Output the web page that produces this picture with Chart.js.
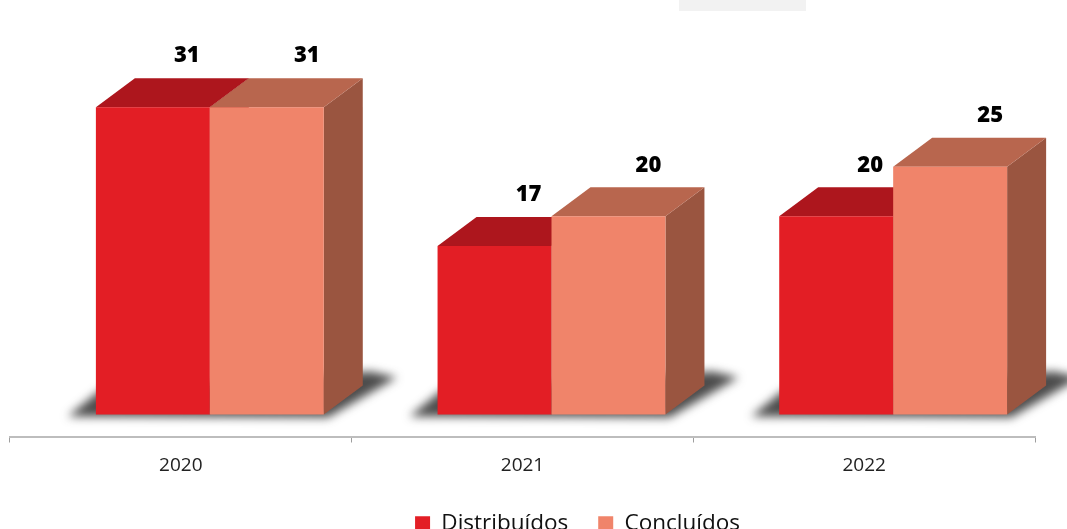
<!DOCTYPE html>
<html>
<head>
<meta charset="utf-8">
<script src="https://cdn.jsdelivr.net/npm/chart.js@4/dist/chart.umd.min.js"></script>
<style>
    html, body { margin: 0; background: #fff; }
    #caixa { width: 1067px; height: 529px; }
</style>
</head>
<body>
<div id="caixa"><canvas id="grafico"></canvas></div>
<script>
const anos = ["2020", "2021", "2022"];
const distribuidos = [31, 17, 20];
const concluidos = [31, 20, 25];

// cores: frente, topo, lateral
const coresDistribuidos = ["#E31E25", "#AD161D", "#8E1217"];
const coresConcluidos = ["#F0846A", "#B8664E", "#9A5540"];

// deslocamento da face frontal e profundidade da caixa
const DX = 29, DY = -22;
const PX = 39, PY = 29;

function poligono(ctx, pts) {
    ctx.beginPath();
    ctx.moveTo(pts[0][0], pts[0][1]);
    for (let i = 1; i < pts.length; i++) ctx.lineTo(pts[i][0], pts[i][1]);
    ctx.closePath();
    ctx.fill();
}

function desenhaCaixa(ctx, el, cores) {
    const x0 = el.x - el.width / 2 + DX;
    const x1 = el.x + el.width / 2 + DX;
    const topo = el.y + DY;
    const base = el.base + DY;
    ctx.fillStyle = cores[2];
    poligono(ctx, [[x1, topo], [x1 + PX, topo - PY], [x1 + PX, base - PY], [x1, base]]);
    ctx.fillStyle = cores[1];
    poligono(ctx, [[x0, topo], [x0 + PX, topo - PY], [x1 + PX, topo - PY], [x1, topo]]);
    ctx.fillStyle = cores[0];
    ctx.fillRect(x0, topo, x1 - x0, base - topo);
}

const barras3d = {
    id: "barras3d",
    beforeDraw(chart) {
        const ctx = chart.ctx;
        ctx.save();
        ctx.fillStyle = "#F2F2F2";
        ctx.fillRect(679, 0, 127, 11);
        ctx.restore();
    },
    afterLayout(chart) {
        // legenda um pouco à direita do centro
        chart.legend.left += 55;
        chart.legend.right += 55;
    },
    beforeDatasetsDraw(chart) {
        const ctx = chart.ctx;
        const metaD = chart.getDatasetMeta(0);
        const metaC = chart.getDatasetMeta(1);
        ctx.save();

        // sombra no chão de cada grupo
        metaD.data.forEach((a, i) => {
            const b = metaC.data[i];
            const x0 = a.x - a.width / 2 + DX;
            const x1 = b.x + b.width / 2 + DX;
            const base = a.base + DY;
            ctx.save();
            ctx.filter = "blur(5px)";
            ctx.fillStyle = "rgba(45,45,45,0.85)";
            poligono(ctx, [[x0 - 28, base + 2], [x0 + 4, base - 24],
                [x1 + PX + 8, base - PY - 14], [x1 + PX + 34, base - PY - 8],
                [x1 + 4, base + 3]]);
            ctx.restore();
        });

        const cores = [coresDistribuidos, coresConcluidos];
        const desloc = [34, 40];
        [metaD, metaC].forEach((meta, di) => {
            meta.data.forEach(el => desenhaCaixa(ctx, el, cores[di]));
        });

        // valores acima das barras
        ctx.fillStyle = "#000";
        ctx.font = "800 22px 'Open Sans'";
        ctx.textAlign = "center";
        ctx.textBaseline = "middle";
        [metaD, metaC].forEach((meta, di) => {
            const valores = chart.data.datasets[di].data;
            meta.data.forEach((el, i) => {
                ctx.fillText(String(valores[i]), el.x + DX + desloc[di], el.y + DY - 51);
            });
        });

        ctx.restore();
        return false;
    }
};

Chart.defaults.font.family = "'Open Sans', sans-serif";

new Chart(document.getElementById("grafico"), {
    type: "bar",
    data: {
        labels: anos,
        datasets: [{
            label: "Distribuídos",
            data: distribuidos,
            backgroundColor: coresDistribuidos[0],
            borderWidth: 0
        }, {
            label: "Concluídos",
            data: concluidos,
            backgroundColor: coresConcluidos[0],
            borderWidth: 0
        }]
    },
    options: {
        responsive: true,
        maintainAspectRatio: false,
        animation: false,
        categoryPercentage: 0.667,
        barPercentage: 1,
        layout: { padding: { left: 10, right: 32, top: 40, bottom: -16 } },
        plugins: {
            legend: {
                position: "bottom",
                labels: {
                    boxWidth: 15,
                    boxHeight: 15,
                    padding: 30,
                    color: "#111",
                    font: { size: 22.5 }
                }
            },
            tooltip: { enabled: false }
        },
        scales: {
            x: {
                afterFit: scale => { scale.height = 46; },
                border: { color: "#BDBDBD", width: 2 },
                grid: {
                    drawOnChartArea: false,
                    tickLength: 6,
                    tickColor: "#9E9E9E"
                },
                ticks: { color: "#222", padding: 12, font: { size: 19 } }
            },
            y: {
                display: false,
                min: 0,
                max: 40
            }
        }
    },
    plugins: [barras3d]
});
</script>
</body>
</html>
